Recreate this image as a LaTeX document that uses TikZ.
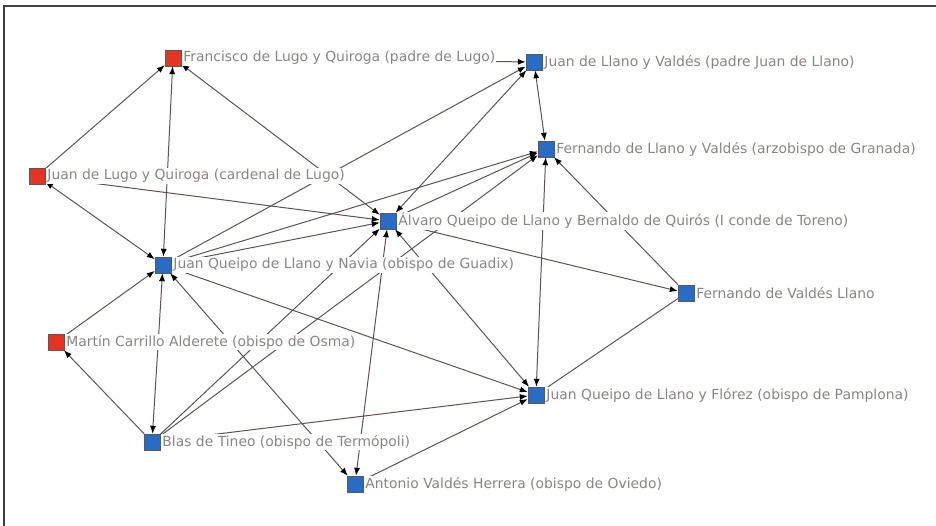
\documentclass[tikz,border=0pt]{standalone}
\usepackage{fontspec}
\setmainfont{DejaVu Sans}
\usetikzlibrary{positioning,arrows.meta}
\definecolor{nodered}{RGB}{230,52,32}
\definecolor{nodeblue}{RGB}{40,108,200}
\definecolor{edgegray}{RGB}{95,82,82}
\definecolor{labelgray}{RGB}{140,132,132}

\begin{document}
\begin{tikzpicture}[x=1pt,y=-1pt,
		bsquarenode/.style={rectangle, draw=black!65, fill=nodeblue, thin, minimum size=16pt, inner sep=0pt},
		rsquarenode/.style={rectangle, draw=black!65, fill=nodered, thin, minimum size=16pt, inner sep=0pt},
		namenode/.style={fill=white, inner sep=1pt, text=labelgray, font=\fontsize{13.9}{14}\selectfont},
		link/.style={draw=edgegray, line width=1pt, -{Latex[length=8pt,width=6pt,color=black]}},
		dlink/.style={draw=edgegray, line width=1pt, {Latex[length=8pt,width=6pt,color=black]}-{Latex[length=8pt,width=6pt,color=black]}},
		plink/.style={draw=edgegray, line width=1pt},
		]
		\useasboundingbox (0,0) rectangle (936,526);
		\draw[black!75, line width=1.3pt] (4,526) -- (4,6) -- (936,6);

		%Nodes
		\node[rsquarenode] (c1)  at (173,58)  {};
		\node[bsquarenode] (c2)  at (534,62)  {};
		\node[bsquarenode] (c3)  at (546,149) {};
		\node[rsquarenode] (c4)  at (37,176)  {};
		\node[bsquarenode] (c5)  at (388,221) {};
		\node[bsquarenode] (c6)  at (163,265) {};
		\node[bsquarenode] (c7)  at (686,293) {};
		\node[rsquarenode] (c8)  at (56,342)  {};
		\node[bsquarenode] (c9)  at (536,395) {};
		\node[bsquarenode] (c10) at (152,442) {};
		\node[bsquarenode] (c11) at (355,484) {};

		%Lines
		\draw[link]  (c4) -- (c1);
		\draw[dlink] (c6) -- (c1);
		\draw[dlink] (c5) -- (c1);
		\draw[dlink] (c4) -- (c6);
		\draw[link]  (c4) -- (c5);
		\draw[link]  (c1) -- (c2);
		\draw[link]  (c6) -- (c2);
		\draw[link]  (c6) -- (c3);
		\draw[link]  (c6) -- (c5);
		\draw[dlink] (c5) -- (c2);
		\draw[link]  (c5) -- (c3);
		\draw[dlink] (c2) -- (c3);
		\draw[dlink] (c3) -- (c9);
		\draw[link]  (c7) -- (c3);
		\draw[link]  (c5) -- (c7);
		\draw[plink] (c7) -- (c9);
		\draw[dlink] (c6) -- (c9);
		\draw[dlink] (c5) -- (c9);
		\draw[dlink] (c5) -- (c11);
		\draw[link]  (c8) -- (c6);
		\draw[dlink] (c10) -- (c6);
		\draw[link]  (c10) -- (c8);
		\draw[dlink] (c6) -- (c11);
		\draw[link]  (c10) -- (c5);
		\draw[link]  (c10) -- (c3);
		\draw[link]  (c10) -- (c9);
		\draw[link]  (c11) -- (c9);

		%Labels
		\node[namenode, right=1pt of c1]  (l1)  {Francisco de Lugo y Quiroga (padre de Lugo)};
		\node[namenode, right=1pt of c2]  (l2)  {Juan de Llano y Valdés (padre Juan de Llano)};
		\node[namenode, right=1pt of c3]  (l3)  {Fernando de Llano y Valdés (arzobispo de Granada)};
		\node[namenode, right=1pt of c4]  (l4)  {Juan de Lugo y Quiroga (cardenal de Lugo)};
		\node[namenode, right=1pt of c5]  (l5)  {Álvaro Queipo de Llano y Bernaldo de Quirós (I conde de Toreno)};
		\node[namenode, right=1pt of c6]  (l6)  {Juan Queipo de Llano y Navia (obispo de Guadix)};
		\node[namenode, right=1pt of c7]  (l7)  {Fernando de Valdés Llano};
		\node[namenode, right=1pt of c8]  (l8)  {Martín Carrillo Alderete (obispo de Osma)};
		\node[namenode, right=1pt of c9]  (l9)  {Juan Queipo de Llano y Flórez (obispo de Pamplona)};
		\node[namenode, right=1pt of c10] (l10) {Blas de Tineo (obispo de Termópoli)};
		\node[namenode, right=1pt of c11] (l11) {Antonio Valdés Herrera (obispo de Oviedo)};
\end{tikzpicture}
\end{document}
